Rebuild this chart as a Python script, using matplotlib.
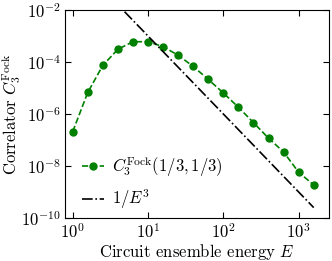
import matplotlib
matplotlib.use('Agg')
import matplotlib.pyplot as plt
import numpy as np

plt.rcParams['font.family'] = 'serif'
plt.rcParams['font.serif'] = ['cmr10']
plt.rcParams['mathtext.fontset'] = 'cm'
plt.rcParams['axes.formatter.use_mathtext'] = True
plt.rcParams['font.size'] = 12

# circuit ensemble energy and the Fock correlator
energy = [1.0, 1.585, 2.512, 3.981, 6.310, 10.0, 15.85, 25.12, 39.81, 63.10,
          100.0, 158.5, 251.2, 398.1, 631.0, 1000.0, 1585.0]
log_c3 = [-6.68, -5.17, -4.13, -3.51, -3.22, -3.22, -3.41, -3.74, -4.17, -4.67,
          -5.19, -5.74, -6.33, -6.93, -7.46, -8.24, -8.73]
c3_fock = [10**v for v in log_c3]
power_law = [1.0 / e**3 for e in energy]

fig = plt.figure(figsize=(3.32, 2.61), dpi=100)
ax = fig.add_axes([65/332, 1 - 218/261, 264/332, 208/261])

ax.plot(energy, c3_fock, 'o--', color='green', ms=5, lw=1.2,
        label=r'$C_3^{\rm Fock}(1/3,1/3)$')
ax.plot(energy, power_law, '-.', color='black', lw=1.2, label=r'$1/E^3$')

ax.set_xscale('log')
ax.set_yscale('log')
ax.set_xlim(0.79, 2530)
ax.set_ylim(1e-10, 1e-2)
ax.set_yticks([1e-10, 1e-8, 1e-6, 1e-4, 1e-2])
ax.minorticks_off()
ax.tick_params(which='both', direction='in', top=True, right=True, length=4,
               pad=3)

ax.set_xlabel(r'Circuit ensemble energy $E$', labelpad=1)
ax.set_ylabel(r'Correlator $C_3^{\rm Fock}$')
ax.yaxis.set_label_coords(-0.16, 0.5)
ax.legend(loc='lower left', frameon=False, handlelength=1.3, handletextpad=0.5,
          borderaxespad=0.1, borderpad=0.3, labelspacing=0.5,
          bbox_to_anchor=(0.04, 0.0))

fig.savefig('out.png', dpi=100)
